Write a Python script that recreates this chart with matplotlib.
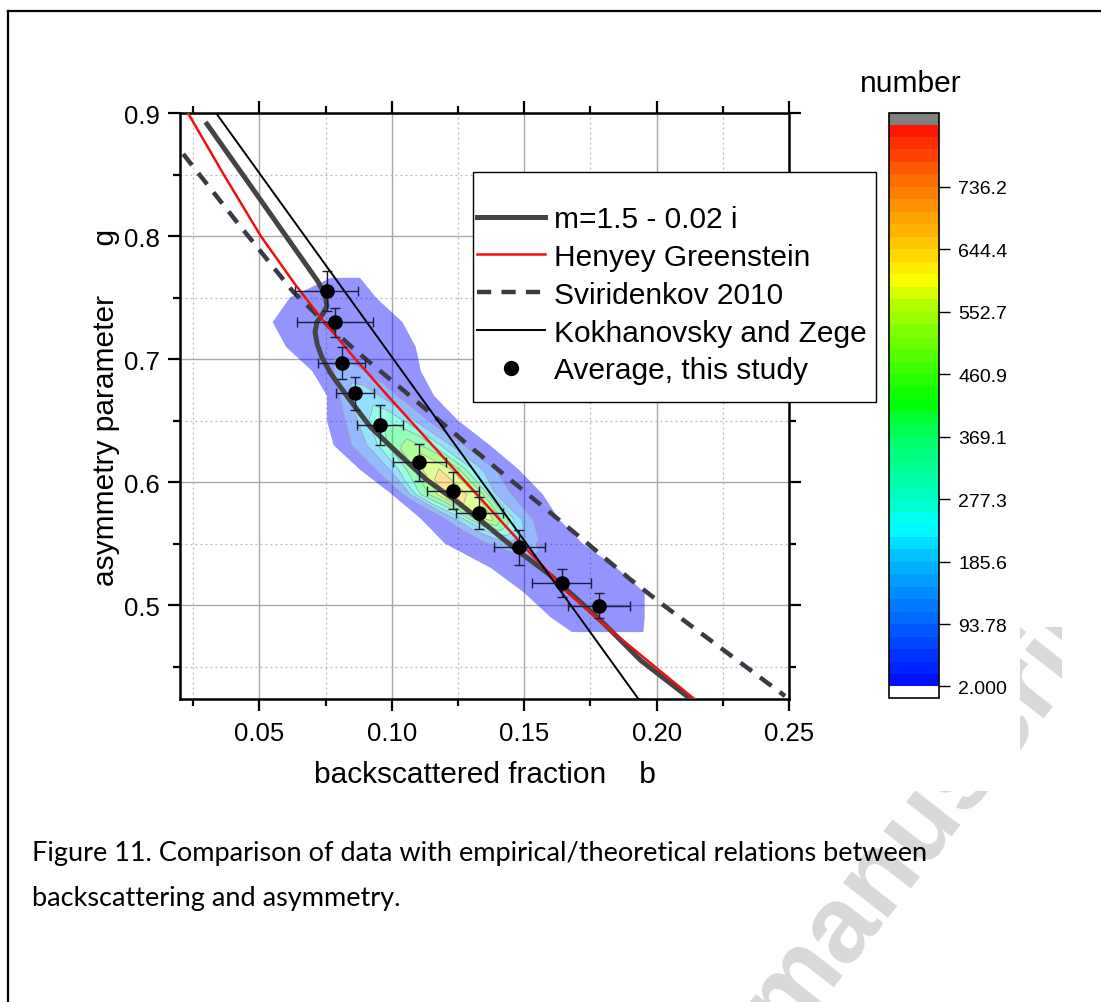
import numpy as np
import matplotlib
matplotlib.use('Agg')
import matplotlib.pyplot as plt
from matplotlib.colors import LinearSegmentedColormap, BoundaryNorm, Normalize
from matplotlib.lines import Line2D
from matplotlib.patches import Rectangle
import matplotlib.ticker as mticker
import matplotlib.cm as cm

plt.rcParams['font.family'] = ['Liberation Sans', 'DejaVu Sans']

# ---------------- data ----------------
mie_b = [0.0302, 0.0453, 0.0600, 0.0721, 0.0748, 0.0755, 0.0740, 0.0717, 0.0710, 0.0718, 0.0735,
         0.0767, 0.0830, 0.0918, 0.1020, 0.1130, 0.1246, 0.1345, 0.1470, 0.1600, 0.1725, 0.1810,
         0.1940, 0.2126]
mie_g = [0.891, 0.845, 0.800, 0.763, 0.752, 0.743, 0.737, 0.730, 0.722, 0.712, 0.702,
         0.689, 0.670, 0.645, 0.624, 0.602, 0.584, 0.567, 0.545, 0.524, 0.500, 0.483,
         0.455, 0.424]

hg_b = [0.0230, 0.0365, 0.0505, 0.0637, 0.0745, 0.0862, 0.0985, 0.1132, 0.1279, 0.1489, 0.1665,
        0.1835, 0.1970, 0.2140]
hg_g = [0.900, 0.850, 0.800, 0.760, 0.730, 0.700, 0.670, 0.635, 0.600, 0.550, 0.510,
        0.478, 0.454, 0.424]

sv_b = [0.0212, 0.0420, 0.0628, 0.0755, 0.0868, 0.1080, 0.1300, 0.1520, 0.1700, 0.1900, 0.2025,
        0.2315, 0.2485]
sv_g = [0.8667, 0.810, 0.7545, 0.728, 0.706, 0.668, 0.628, 0.589, 0.557, 0.521, 0.500,
        0.4534, 0.426]

kz_b = [0.0336, 0.1930]
kz_g = [0.900, 0.424]

avg_b = [0.0754, 0.0785, 0.0811, 0.0861, 0.0955, 0.1104, 0.1232, 0.1331, 0.1481, 0.1641, 0.1783]
avg_g = [0.7555, 0.7300, 0.6965, 0.6720, 0.6467, 0.6160, 0.5930, 0.5749, 0.5470, 0.5179, 0.4995]
avg_berr = [0.0120, 0.0145, 0.0089, 0.0071, 0.0086, 0.0101, 0.0098, 0.0087, 0.0097, 0.0111, 0.0117]
avg_gerr = [0.0163, 0.0117, 0.0130, 0.0136, 0.0163, 0.0152, 0.0149, 0.0133, 0.0141, 0.0116, 0.0100]

# density of observations: rows of constant g; each row spans [left, right] in b,
# counts given at 11 equally spaced positions across the row
dens_g = [0.478, 0.49, 0.51, 0.53, 0.55, 0.57, 0.59, 0.61, 0.63, 0.65, 0.67, 0.69, 0.71, 0.73, 0.75, 0.766]
dens_left = [0.168, 0.160, 0.150, 0.1375, 0.120, 0.111, 0.100, 0.088, 0.078, 0.0755, 0.0755, 0.070,
             0.060, 0.055, 0.0615, 0.077]
dens_right = [0.195, 0.1955, 0.1955, 0.185, 0.172, 0.163, 0.157, 0.148, 0.137, 0.125, 0.116, 0.111,
              0.109, 0.104, 0.094, 0.088]
dens_counts = [
    [2.5, 3, 4, 4, 4, 4, 4, 3, 3, 3, 2.5],
    [2.5, 6, 12, 17, 20, 19, 15, 11, 7, 4, 2.5],
    [2.5, 10, 22, 32, 38, 35, 28, 18, 10, 5, 2.5],
    [2.5, 15, 35, 55, 60, 55, 42, 28, 15, 7, 2.5],
    [2.5, 25, 55, 90, 120, 130, 115, 80, 45, 15, 2.5],
    [2.5, 40, 110, 260, 480, 590, 430, 220, 100, 30, 2.5],
    [2.5, 130, 390, 552, 780, 640, 480, 170, 88, 40, 2.5],
    [2.5, 95, 200, 380, 560, 650, 520, 300, 140, 50, 2.5],
    [2.5, 80, 170, 300, 440, 500, 430, 250, 120, 40, 2.5],
    [2.5, 60, 150, 260, 340, 345, 260, 150, 70, 25, 2.5],
    [2.5, 70, 180, 255, 240, 180, 120, 70, 35, 12, 2.5],
    [2.5, 40, 95, 125, 115, 90, 60, 35, 18, 8, 2.5],
    [2.5, 15, 40, 62, 70, 58, 40, 25, 12, 6, 2.5],
    [2.5, 8, 15, 25, 32, 28, 20, 12, 7, 4, 2.5],
    [2.5, 4, 6, 8, 10, 10, 8, 6, 4, 3, 2.5],
    [2.5, 3, 3, 3, 3, 3, 3, 3, 3, 3, 2.5],
]

cbar_ticks = [2.000, 93.78, 185.6, 277.3, 369.1, 460.9, 552.7, 644.4, 736.2]
cbar_labels = ['2.000', '93.78', '185.6', '277.3', '369.1', '460.9', '552.7', '644.4', '736.2']
cbar_max = 814.3

legend_labels = ['m=1.5 - 0.02 i', 'Henyey Greenstein', 'Sviridenkov 2010',
                 'Kokhanovsky and Zege', 'Average, this study']

caption = ("Figure 11. Comparison of data with empirical/theoretical relations between\n"
           "backscattering and asymmetry.")

# ---------------- figure ----------------
W, H = 1101, 1003
fig = plt.figure(figsize=(W / 100, H / 100), dpi=100)

def fx(px):
    return px / W

def fy(py):
    return 1 - py / H

# watermark (mostly hidden behind the chart picture)
fig.text(fx(785), fy(1040), 'manuscript', rotation=52, fontsize=78, color='#d8d8d8',
         fontweight='bold', ha='left', va='baseline', rotation_mode='anchor', zorder=-3,
         family=['Liberation Sans'])
for (x0, y0, x1, y1) in [(0, 0, 1020, 792), (1020, 0, 1101, 628), (1062, 0, 1101, 792)]:
    fig.patches.append(Rectangle((fx(x0), fy(y1)), fx(x1) - fx(x0), fy(y0) - fy(y1),
                                 transform=fig.transFigure, facecolor='white', edgecolor='none',
                                 zorder=-2))
# page border
fig.add_artist(Line2D([fx(8), 1.0], [fy(12), fy(12)], color='black', lw=1.6, zorder=5))
fig.add_artist(Line2D([fx(8), fx(8)], [fy(12), 0.0], color='black', lw=1.6, zorder=5))

ax = fig.add_axes([fx(180), fy(700), fx(789) - fx(180), fy(114) - fy(700)])

# colormap (Origin-like rainbow)
vmin, vmax = 2.0, cbar_max
stops = [(0.0, (0, 0, 255)), (0.111, (0, 90, 255)), (0.222, (0, 180, 255)), (0.288, (0, 255, 255)),
         (0.333, (0, 255, 200)), (0.444, (0, 255, 100)), (0.506, (0, 255, 0)), (0.667, (170, 255, 0)),
         (0.718, (255, 255, 0)), (0.778, (255, 200, 0)), (0.889, (255, 110, 0)), (1.0, (255, 0, 0))]
cmap = LinearSegmentedColormap.from_list('origin_rainbow',
                                         [(p, tuple(c / 255 for c in col)) for p, col in stops])
cmap.set_under('white')
cmap.set_over('#808080')

# density contour
fr = np.linspace(0, 1, 11)
Gg = np.repeat(np.array(dens_g)[:, None], len(fr), axis=1)
Bb = np.array(dens_left)[:, None] + (np.array(dens_right) - np.array(dens_left))[:, None] * fr[None, :]
Z = np.array(dens_counts, dtype=float)
major_levels = [2.0 + 91.78 * k for k in range(10)]
norm_c = Normalize(vmin=vmin, vmax=vmax)
fill_colors = [cmap(norm_c(l)) for l in major_levels[:-1]]
ax.contourf(Bb, Gg, Z, levels=major_levels, colors=fill_colors, alpha=0.42, zorder=1,
            antialiased=True)
ax.contour(Bb, Gg, Z, levels=major_levels[1:], colors='#9a9a9a', linewidths=0.6, alpha=0.8, zorder=1.1)

# curves
ax.plot(mie_b, mie_g, color='#444444', lw=3.6, zorder=3, solid_joinstyle='round')
ax.plot(hg_b, hg_g, color='#ee1111', lw=1.8, zorder=3.2, solid_joinstyle='round')
ax.plot(sv_b, sv_g, color='#3a3a44', lw=3.2, ls=(0, (3.2, 2.3)), zorder=3.1)
ax.plot(kz_b, kz_g, color='black', lw=1.4, zorder=3.3)
ax.errorbar(avg_b, avg_g, xerr=avg_berr, yerr=avg_gerr, fmt='o', color='black', ms=9.5,
            ecolor='#1c1c3c', elinewidth=1.0, capsize=3.5, capthick=1.0, zorder=4)

# axes styling
ax.set_xlim(0.02, 0.25)
ax.set_ylim(0.4236, 0.9)
ax.xaxis.set_major_locator(mticker.MultipleLocator(0.05))
ax.xaxis.set_minor_locator(mticker.MultipleLocator(0.025))
ax.yaxis.set_major_locator(mticker.MultipleLocator(0.1))
ax.yaxis.set_minor_locator(mticker.MultipleLocator(0.05))
ax.xaxis.set_major_formatter(mticker.FormatStrFormatter('%.2f'))
ax.yaxis.set_major_formatter(mticker.FormatStrFormatter('%.1f'))
ax.tick_params(which='both', direction='out', top=True, right=True, labelsize=18.5, width=1.6,
               color='black')
ax.tick_params(axis='x', which='major', pad=7)
ax.tick_params(axis='y', which='major', pad=6)
ax.tick_params(which='major', length=8.5)
ax.tick_params(which='minor', length=5)
for s in ax.spines.values():
    s.set_linewidth(1.8)
ax.set_axisbelow(True)
ax.grid(which='major', color='#a8a8a8', lw=1.0, ls='-')
ax.grid(which='minor', color='#b8b8b8', lw=0.9, ls=(0, (1.5, 2.5)))
ax.set_xlabel('backscattered fraction    b', fontsize=21.5, labelpad=11)
ax.set_ylabel('asymmetry parameter      g', fontsize=21.5, labelpad=3)

# legend (frame drawn separately as in the original)
ax.add_patch(Rectangle((fx(473), fy(403)), fx(876) - fx(473), fy(173) - fy(403),
                       transform=fig.transFigure, facecolor='white', edgecolor='black', lw=1.0,
                       zorder=5, clip_on=False))
handles = [
    Line2D([], [], color='#444444', lw=3.6),
    Line2D([], [], color='#ee1111', lw=1.8),
    Line2D([], [], color='#3a3a44', lw=3.2, ls=(0, (3.2, 2.3))),
    Line2D([], [], color='black', lw=1.4),
    Line2D([], [], color='black', marker='o', ls='none', ms=10),
]
leg = ax.legend(handles, legend_labels, loc='upper left', bbox_to_anchor=(fx(477), fy(206)),
                bbox_transform=fig.transFigure, fontsize=21.5, frameon=False,
                handlelength=2.27, handletextpad=0.3, labelspacing=0.33, borderpad=0,
                borderaxespad=0)
leg.set_zorder(6)

# colorbar
cax = fig.add_axes([fx(889), fy(699), fx(939) - fx(889), fy(114) - fy(699)])
fine_levels = [2.0 + 91.78 * k / 5 for k in range(45)] + [cbar_max]
sm = cm.ScalarMappable(norm=BoundaryNorm(fine_levels, cmap.N, extend='both'), cmap=cmap)
cb = fig.colorbar(sm, cax=cax, extend='both', extendrect=True, extendfrac=0.0205, ticks=cbar_ticks,
                  drawedges=False)
cb.ax.set_yticklabels(cbar_labels)
cb.ax.tick_params(labelsize=14, length=8, width=1.0, direction='out', pad=6)
cb.ax.minorticks_off()
cb.outline.set_linewidth(1.2)
fig.text(fx(911), fy(84), 'number', fontsize=21.5, ha='center', va='center')

# caption
fig.text(fx(32), fy(876), caption, fontsize=19.5, ha='left', va='center', linespacing=2.0,
         family=['Lato', 'DejaVu Sans'])

fig.savefig('out.png', dpi=100)
